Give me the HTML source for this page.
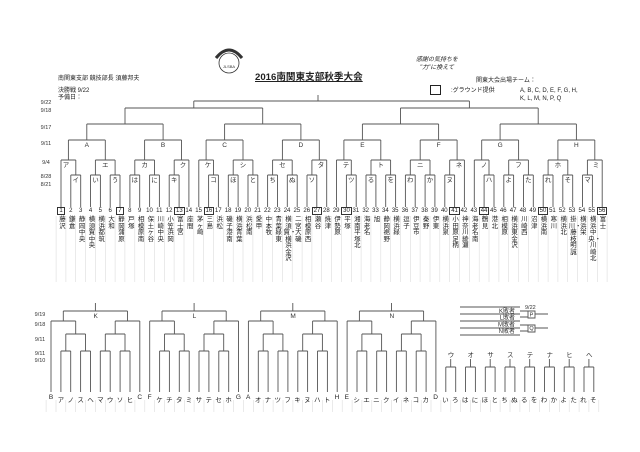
<!DOCTYPE html>
<html><head><meta charset="utf-8">
<style>
body{margin:0;background:#fff;}
#c{position:relative;width:640px;height:452px;overflow:hidden;font-family:"Liberation Sans","Noto Sans CJK JP",sans-serif;color:#222;}
.t{position:absolute;white-space:nowrap;line-height:1;}
.row{position:absolute;display:flex;}
.row div{width:9.84px;text-align:center;flex:none;}
.nm div{font-size:6.4px;line-height:6.5px;word-break:break-all;}
.num div{font-size:6px;line-height:7px;}
.num div.b span{border:1px solid #333;padding:0 1px;}
.bl div{width:9.87px;font-size:6.5px;}
svg{position:absolute;left:0;top:0;}
.lab{font-size:6.5px;text-anchor:middle;fill:#333;}
</style></head><body><div id="c">
<svg id="s" width="640" height="452">
<g fill="none" stroke="#333" stroke-width="0.8">
<circle cx="229" cy="63" r="10"/><path d="M216 58 Q229 42 242 58" stroke-width="3"/>
</g>
<text x="229" y="68" class="lab" style="font-size:4px">JLSBA</text>
<text x="61.0" y="182" class="lab"></text>
<g class="lab">
<text x="75.8" y="182">イ</text><text x="95.5" y="182">い</text><text x="115.1" y="182">う</text><text x="134.8" y="182">は</text><text x="154.5" y="182">に</text><text x="174.2" y="182">キ</text><text x="213.5" y="182">コ</text><text x="233.2" y="182">ほ</text><text x="252.9" y="182">と</text><text x="272.6" y="182">ち</text><text x="292.3" y="182">ぬ</text><text x="311.9" y="182">ソ</text><text x="351.3" y="182">ツ</text><text x="371" y="182">る</text><text x="390.7" y="182">を</text><text x="410.3" y="182">わ</text><text x="430" y="182">か</text><text x="449.7" y="182">ヌ</text><text x="489" y="182">ハ</text><text x="508.7" y="182">よ</text><text x="528.4" y="182">た</text><text x="548.1" y="182">れ</text><text x="567.8" y="182">そ</text><text x="587.5" y="182">マ</text>
<text x="66" y="167">ア</text><text x="105.3" y="167">エ</text><text x="144.6" y="167">カ</text><text x="183" y="167">ク</text><text x="208" y="167">ケ</text><text x="243" y="167">シ</text><text x="282.4" y="167">セ</text><text x="321" y="167">タ</text><text x="346" y="167">テ</text><text x="380.8" y="167">ト</text><text x="420.2" y="167">ニ</text><text x="459" y="167">ネ</text><text x="484" y="167">ノ</text><text x="518.5" y="167">フ</text><text x="557.9" y="167">ホ</text><text x="596" y="167">ミ</text>
<text x="86.8" y="147">A</text><text x="163.1" y="147">B</text><text x="224.6" y="147">C</text><text x="300.8" y="147">D</text><text x="362.4" y="147">E</text><text x="438.6" y="147">F</text><text x="500.1" y="147">G</text><text x="576.4" y="147">H</text>
<text x="95.7" y="318">K</text><text x="194.4" y="318">L</text><text x="293.1" y="318">M</text><text x="391.8" y="318">N</text>
<text x="451" y="357">ウ</text><text x="470.7" y="357">オ</text><text x="490.5" y="357">サ</text><text x="510.2" y="357">ス</text><text x="530" y="357">テ</text><text x="549.7" y="357">ナ</text><text x="569.4" y="357">ヒ</text><text x="589.2" y="357">へ</text>
</g>
<g class="lab" style="font-size:5.5px">
<text x="46" y="104">9/22</text><text x="46" y="112">9/18</text><text x="46" y="129">9/17</text><text x="46" y="145">9/11</text><text x="46" y="164">9/4</text><text x="46" y="178">8/28</text><text x="46" y="186">8/21</text>
<text x="40" y="316">9/19</text><text x="40" y="326">9/18</text><text x="40" y="341">9/11</text><text x="40" y="355">9/11</text><text x="40" y="362">9/10</text>
</g>
<g style="font-size:6px;fill:#333">
<text x="515" y="313" text-anchor="end">K敗者</text><text x="515" y="319.5" text-anchor="end">L敗者</text><text x="515" y="326.5" text-anchor="end">M敗者</text><text x="515" y="333" text-anchor="end">N敗者</text>
<text x="525" y="309" style="font-size:5.5px">9/22</text>
<text x="531.5" y="316.5" text-anchor="middle" style="font-size:5.5px">P</text>
<text x="531.5" y="330" text-anchor="middle" style="font-size:5.5px">Q</text>
</g>
<g id="L" stroke="#555" stroke-width="0.9" fill="none"></g>
</svg>
<div class="t" style="left:58px;top:76px;font-size:6px">南関東支部 競技部長 須藤邦夫</div>
<div class="t" style="left:58px;top:88px;font-size:6px">決勝戦 9/22</div>
<div class="t" style="left:58px;top:95px;font-size:6px">予備日：</div>
<div class="t" style="left:255px;top:73px;font-size:9.6px;font-weight:bold;text-decoration:underline">2016南関東支部秋季大会</div>
<div class="t" style="left:416px;top:56px;font-size:6px;font-style:italic;text-align:center;line-height:8px">感謝の気持ちを<br>"力"に換えて</div>
<div class="t" style="left:476px;top:78px;font-size:6px">関東大会出場チーム：</div>
<div class="t" style="left:430px;top:85px;width:9px;height:8px;border:1px solid #222"></div>
<div class="t" style="left:451px;top:88px;font-size:6px">:グラウンド提供</div>
<div class="t" style="left:520px;top:88px;font-size:6px;line-height:7.5px">A, B, C, D, E, F, G, H,<br>K, L, M, N, P, Q</div>
<div class="row num" style="left:56.1px;top:208px">
<div class="b"><span>1</span></div><div>2</div><div>3</div><div>4</div><div>5</div><div>6</div><div class="b"><span>7</span></div><div>8</div><div>9</div><div>10</div><div>11</div><div>12</div><div class="b"><span>13</span></div><div>14</div><div>15</div><div class="b"><span>16</span></div><div>17</div><div>18</div><div>19</div><div>20</div><div>21</div><div>22</div><div>23</div><div>24</div><div>25</div><div>26</div><div class="b"><span>27</span></div><div>28</div><div>29</div><div class="b"><span>30</span></div><div>31</div><div>32</div><div>33</div><div>34</div><div>35</div><div>36</div><div>37</div><div>38</div><div>39</div><div>40</div><div class="b"><span>41</span></div><div>42</div><div>43</div><div class="b"><span>44</span></div><div>45</div><div>46</div><div>47</div><div>48</div><div>49</div><div class="b"><span>50</span></div><div>51</div><div>52</div><div>53</div><div>54</div><div>55</div><div class="b"><span>56</span></div>
</div>
<div class="row nm" style="left:57.5px;top:217px">
<div>藤沢</div><div>鎌倉</div><div>静岡中央</div><div>横須賀中央</div><div>横浜都筑</div><div>大和</div><div>静岡蒲原</div><div>戸塚</div><div>相模原南</div><div>保土ヶ谷</div><div>川崎中央</div><div>小笠浜岡</div><div>富士宮</div><div>座間</div><div>茅ヶ崎</div><div>三島</div><div>浜松</div><div>磯子港南</div><div>横浜青葉</div><div>浜松南</div><div>愛甲</div><div>中本牧</div><div>青葉緑東</div><div>横須賀・横浜金沢</div><div>二宮大磯</div><div>相模原西</div><div>瀬谷</div><div>焼津</div><div>伊勢原</div><div>平塚</div><div>湘南平塚北</div><div>海老名</div><div>旭</div><div>静岡裾野</div><div>横浜緑</div><div>逗子</div><div>伊豆市</div><div>秦野</div><div>伊東</div><div>横浜泉</div><div>小田原足柄</div><div>神奈川綾瀬</div><div>海老名南</div><div>鶴見</div><div>港北</div><div>相模原</div><div>横浜東金沢</div><div>川崎西</div><div>沼津</div><div>横浜南</div><div>寒川</div><div>横浜北</div><div>掛川・藤枝明誠</div><div>横浜栄</div><div>横浜中央・川崎北</div><div>富士</div>
</div>
<div class="row bl" style="left:46.1px;top:394px">
<div>B</div><div>ア</div><div>ノ</div><div>ス</div><div>ヘ</div><div>マ</div><div>ウ</div><div>ソ</div><div>ヒ</div><div>C</div><div>F</div><div>ケ</div><div>チ</div><div>タ</div><div>ミ</div><div>サ</div><div>テ</div><div>セ</div><div>ホ</div><div>G</div><div>A</div><div>オ</div><div>ナ</div><div>ツ</div><div>フ</div><div>キ</div><div>ヌ</div><div>ハ</div><div>ト</div><div>H</div><div>E</div><div>シ</div><div>エ</div><div>ニ</div><div>ク</div><div>イ</div><div>ネ</div><div>コ</div><div>カ</div><div>D</div><div>い</div><div>ろ</div><div>は</div><div>に</div><div>ほ</div><div>と</div><div>ち</div><div>ぬ</div><div>る</div><div>を</div><div>わ</div><div>か</div><div>よ</div><div>た</div><div>れ</div><div>そ</div>
</div>
</div>
<script>
(function(){
var g=document.getElementById('L'),d='';
function H(x1,x2,y){d+='M'+x1.toFixed(1)+' '+y+'H'+x2.toFixed(1);}
function V(x,y1,y2){d+='M'+x.toFixed(1)+' '+y1+'V'+y2;}
function X(n){return 61+(n-1)*9.84;}
var LEAF=207;
// node: {x, y}
function leaf(n){return {x:X(n),y:LEAF};}
function join(a,b,y){H(a.x,b.x,y);V(a.x,y,a.y);V(b.x,y,b.y);return {x:(a.x+b.x)/2,y:y};}
var grp=[];
for(var k=0;k<8;k++){
 var s=1+k*7,p,q;
 var even=(k%2==0);
 if(even){ // pattern: s + (s+1,s+2) ; (s+3,s+4)+(s+5,s+6)
  p=join(leaf(s),join(leaf(s+1),leaf(s+2),175),160);
  q=join(join(leaf(s+3),leaf(s+4),175),join(leaf(s+5),leaf(s+6),175),160);
 } else { // (s,s+1)+(s+2,s+3) ; (s+4,s+5)+s+6
  p=join(join(leaf(s),leaf(s+1),175),join(leaf(s+2),leaf(s+3),175),160);
  q=join(join(leaf(s+4),leaf(s+5),175),leaf(s+6),160);
 }
 grp.push(join(p,q,140));
}
var m=[join(grp[0],grp[1],124),join(grp[2],grp[3],124),join(grp[4],grp[5],124),join(grp[6],grp[7],124)];
var sL=join(m[0],m[1],108),sR=join(m[2],m[3],108);
join(sL,sR,101);V(318,95,101);
// separators top
var sep='';
for(var n=1;n<=56;n++){sep+='M'+(X(n)+4.9).toFixed(1)+' 216V282';}
sep+='M'+(X(1)-4.9).toFixed(1)+' 216V282';
// bottom
function B(i){return 51+i*9.87;}
var BL=392;
function bl(i){return {x:B(i),y:BL};}
for(var k=0;k<4;k++){
 var b=k*10;
 var p1=join(bl(b+1),bl(b+2),351),p2=join(bl(b+3),bl(b+4),351),p3=join(bl(b+5),bl(b+6),351),p4=join(bl(b+7),bl(b+8),351);
 var q1=join(p1,p2,334),q2=join(p3,p4,334);
 var r1=join(bl(b),q1,321),r2=join(q2,bl(b+9),321);
 var f=join(r1,r2,311);V(f.x,303,311);
}
for(var k=0;k<8;k++){var j=join(bl(40+2*k),bl(41+2*k),367);V(j.x,359,367);}
for(var i=0;i<=56;i++){sep+='M'+(B(i)-4.9).toFixed(1)+' 400V412';}
// losers
[307,314,321,328,335].forEach(function(y){d+='M460 '+y+'H520';});
d+='M520 311H528M520 317H528M528 311V318H535V311H528M535 314H548';
d+='M520 325H528M520 331H528M528 325V332H535V325H528M535 328H548';
g.setAttribute('d','');
var pth=document.createElementNS('http://www.w3.org/2000/svg','path');pth.setAttribute('d',d);g.appendChild(pth);
var ps=document.createElementNS('http://www.w3.org/2000/svg','path');ps.setAttribute('d',sep);ps.setAttribute('stroke','#ddd');ps.setAttribute('stroke-width','0.6');g.appendChild(ps);
})();
</script>
</body></html>
